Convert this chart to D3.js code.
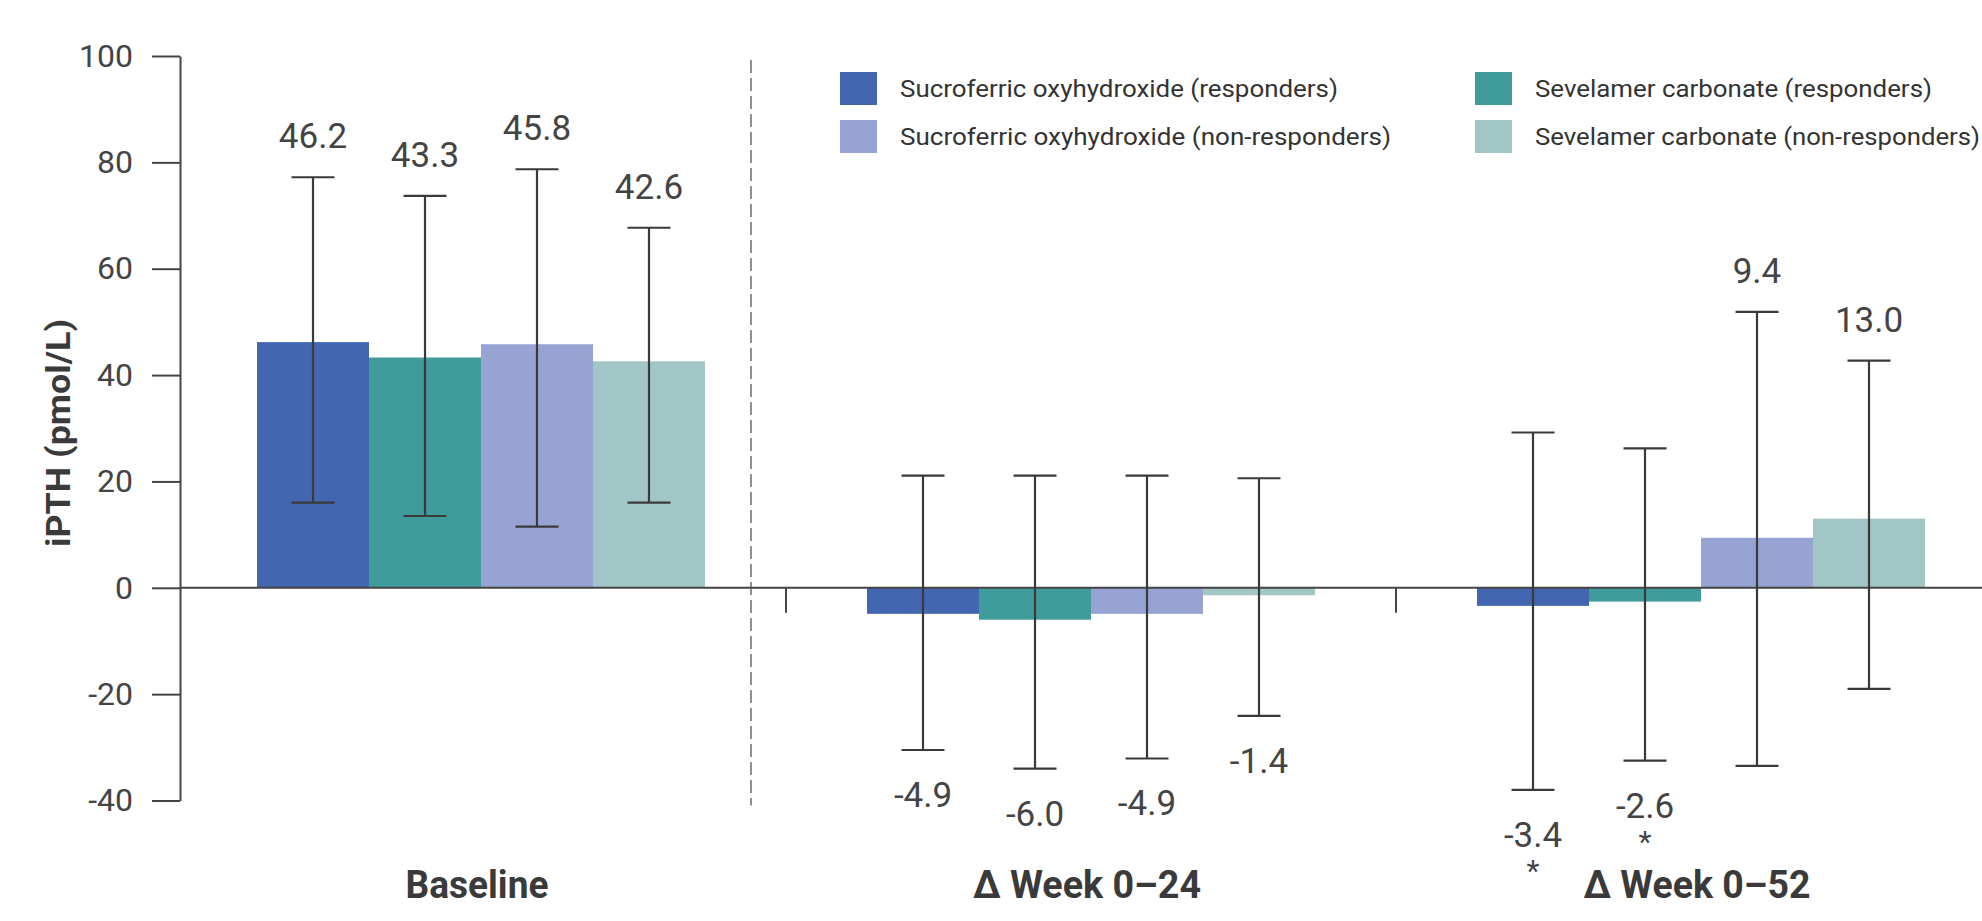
<!DOCTYPE html>
<html><head><meta charset="utf-8">
<script src="https://cdn.jsdelivr.net/npm/d3@7"></script>
<style>body{margin:0;background:#fff;} svg{display:block;}</style>
</head><body><svg id="c" width="1982" height="921"></svg>
<script>
// ---- data ----
const categories = ["Baseline", "\u0394 Week 0\u201324", "\u0394 Week 0\u201352"];
const seriesNames = [
  "Sucroferric oxyhydroxide (responders)",
  "Sevelamer carbonate (responders)",
  "Sucroferric oxyhydroxide (non-responders)",
  "Sevelamer carbonate (non-responders)"
];
const baselineVals = [46.2, 43.3, 45.8, 42.6];
const week24Vals   = [-4.9, -6.0, -4.9, -1.4];
const week52Vals   = [-3.4, -2.6, 9.4, 13.0];
const baselineHigh = [77.2, 73.7, 78.7, 67.7];
const baselineLow  = [16.0, 13.5, 11.5, 16.0];
const week24High   = [21.1, 21.1, 21.1, 20.6];
const week24Low    = [-30.5, -34.0, -32.1, -24.1];
const week52High   = [29.2, 26.2, 51.9, 42.7];
const week52Low    = [-38.0, -32.5, -33.5, -19.0];
const week52Star   = [true, true, false, false];
const yTicks = [-40, -20, 0, 20, 40, 60, 80, 100];
const yLabel = "iPTH (pmol/L)";

const groups = [
  {cat: categories[0], vals: baselineVals, hi: baselineHigh, lo: baselineLow, star: [false,false,false,false]},
  {cat: categories[1], vals: week24Vals, hi: week24High, lo: week24Low, star: [false,false,false,false]},
  {cat: categories[2], vals: week52Vals, hi: week52High, lo: week52Low, star: week52Star}
];

// ---- styles ----
const colors = ["#4267b0", "#409c9a", "#97a4d3", "#a2c6c6"];
const ink = "#3a3a3a";
const svg = d3.select("#c");

const y = d3.scaleLinear().domain([-40, 100]).range([800.5, 56]);
const x = d3.scaleBand().domain(categories).range([257, 1925]).paddingInner(0.2656).paddingOuter(0);
const xs = d3.scaleBand().domain(d3.range(4)).range([0, x.bandwidth()]).padding(0);

// bars
groups.forEach(g => {
  const gx = x(g.cat);
  const gg = svg.append("g");
  gg.selectAll("rect").data(g.vals).join("rect")
    .attr("x", (d,i) => gx + xs(i))
    .attr("width", xs.bandwidth())
    .attr("y", d => y(Math.max(0, d)))
    .attr("height", d => Math.abs(y(d) - y(0)))
    .attr("fill", (d,i) => colors[i]);
});

// zero line
svg.append("line").attr("x1", 180).attr("x2", 1982)
  .attr("y1", y(0)).attr("y2", y(0)).attr("stroke", "#444").attr("stroke-width", 2);

// small separators on zero line
for (let k = 0; k < categories.length - 1; k++) {
  const sx = (x(categories[k]) + x.bandwidth() + x(categories[k+1])) / 2;
  svg.append("line").attr("x1", sx).attr("x2", sx)
    .attr("y1", y(0)).attr("y2", y(0) + 25).attr("stroke", "#444").attr("stroke-width", 2);
}

// dashed divider
const dx = x(categories[0]) + x.bandwidth() + 46;
svg.append("line").attr("x1", dx).attr("x2", dx)
  .attr("y1", y(100) + 4).attr("y2", y(-40) + 5)
  .attr("stroke", "#555").attr("stroke-width", 1.3).attr("stroke-dasharray", "13,5");

// error bars and labels
const capW = 43;
groups.forEach(g => {
  const gx = x(g.cat);
  g.vals.forEach((v, i) => {
    const cx = gx + xs(i) + xs.bandwidth() / 2;
    const e = svg.append("g").attr("stroke", ink).attr("stroke-width", 2.2);
    e.append("line").attr("x1", cx).attr("x2", cx).attr("y1", y(g.hi[i])).attr("y2", y(g.lo[i]));
    e.append("line").attr("x1", cx - capW/2).attr("x2", cx + capW/2).attr("y1", y(g.hi[i])).attr("y2", y(g.hi[i]));
    e.append("line").attr("x1", cx - capW/2).attr("x2", cx + capW/2).attr("y1", y(g.lo[i])).attr("y2", y(g.lo[i]));
    const above = v > 0;
    const ly = above ? y(g.hi[i]) - 29 : y(g.lo[i]) + 57;
    svg.append("text").attr("x", cx).attr("y", ly)
      .attr("text-anchor", "middle").attr("font-family", "Roboto, sans-serif")
      .attr("font-size", 35).attr("fill", "#444").text(v.toFixed(1));
    if (g.star[i]) {
      svg.append("text").attr("x", cx).attr("y", ly + 34)
        .attr("text-anchor", "middle").attr("font-family", "Roboto, sans-serif")
        .attr("font-size", 30).attr("fill", "#444").text("*");
    }
  });
});

// y axis
const yAxis = d3.axisLeft(y).tickValues(yTicks).tickFormat(d => String(d))
  .tickSize(28).tickSizeOuter(0).tickPadding(19);
const ya = svg.append("g").attr("transform", "translate(180,0)").call(yAxis);
ya.select(".domain").attr("stroke", "#444").attr("stroke-width", 2);
ya.selectAll(".tick line").attr("stroke", "#444").attr("stroke-width", 2);
ya.selectAll(".tick text").attr("font-family", "Roboto, sans-serif").attr("font-size", 32).attr("fill", "#444");

// y label
svg.append("text").attr("transform", "translate(70,433) rotate(-90)")
  .attr("text-anchor", "middle").attr("font-family", "Roboto, sans-serif")
  .attr("font-weight", "bold").attr("font-size", 34).attr("fill", ink)
  .attr("textLength", 228).attr("lengthAdjust", "spacingAndGlyphs").text(yLabel);

// category labels
const catLen = [143, 228, 227];
categories.forEach((c, k) => {
  svg.append("text").attr("x", x(c) + x.bandwidth()/2 - 4).attr("y", 898)
    .attr("text-anchor", "middle").attr("font-family", "Roboto, sans-serif")
    .attr("font-weight", "bold").attr("font-size", 38).attr("fill", ink)
    .attr("textLength", catLen[k]).attr("lengthAdjust", "spacingAndGlyphs").text(c);
});

// legend
const legX = [840, 1475], legY = [72, 120];
const legLen = [438, 397, 491, 445];
seriesNames.forEach((s, i) => {
  const col = i % 2, row = Math.floor(i / 2);
  svg.append("rect").attr("x", legX[col]).attr("y", legY[row]).attr("width", 37).attr("height", 33).attr("fill", colors[i]);
  svg.append("text").attr("x", legX[col] + 60).attr("y", legY[row] + 25)
    .attr("font-family", "Roboto, sans-serif").attr("font-size", 23).attr("fill", "#333")
    .attr("textLength", legLen[i]).attr("lengthAdjust", "spacingAndGlyphs").text(s);
});
</script></body></html>
